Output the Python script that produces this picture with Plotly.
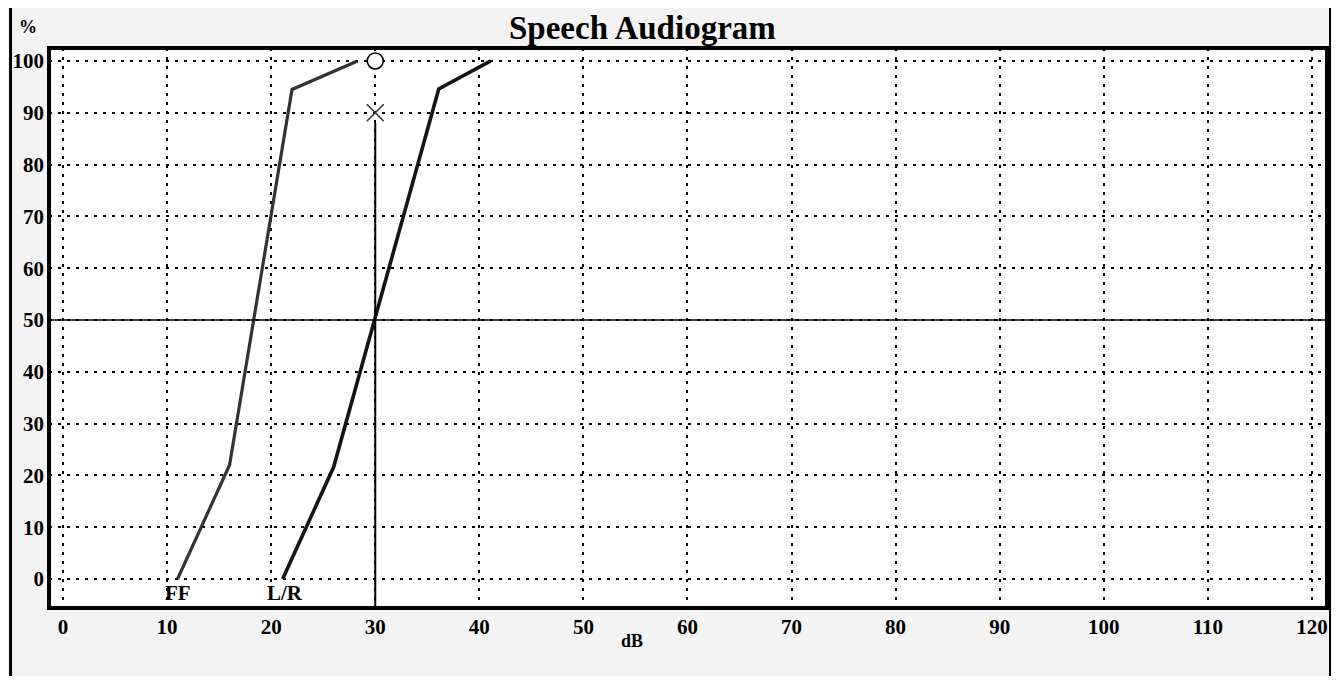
import plotly.graph_objects as go

# ---- data ----
ff_db = [11, 16, 22, 28.3]
ff_pct = [0, 22, 94.5, 100]
lr_db = [21.1, 26, 36.1, 41.1]
lr_pct = [0, 21.6, 94.6, 100]

srt_db = 30            # threshold marker position
circle_pct = [100]
cross_pct = [90]
srt_line_top = 88      # solid vertical line reaches up to here
half_pct = 50          # horizontal reference line

x_ticks = [0, 10, 20, 30, 40, 50, 60, 70, 80, 90, 100, 110, 120]
x_labels = [str(v) for v in x_ticks]
y_ticks = [0, 10, 20, 30, 40, 50, 60, 70, 80, 90, 100]
y_labels = [str(v) for v in y_ticks]

curve_labels = ["FF", "L/R"]
curve_label_x = [11, 21.3]
curve_label_y = -2.8

XR = [-1.35, 121.45]
YR = [-5.6, 102.5]

SERIF = "Liberation Serif"

# figure is placed at (8,8) in the page
W, H = 1324, 668
ML, MT = 40, 40
PW, PH = 1280, 560
MR = W - ML - PW
MB = H - MT - PH


def px_to_paper_x(px):
    return (px - 8 - ML) / PW


def px_to_paper_y(py):
    return (MT + PH - (py - 8)) / PH


fig = go.Figure()

fig.add_trace(go.Scatter(x=ff_db, y=ff_pct, mode="lines",
                         line=dict(color="#333333", width=3.2), hoverinfo="skip"))
fig.add_trace(go.Scatter(x=lr_db, y=lr_pct, mode="lines",
                         line=dict(color="#151515", width=3.6), hoverinfo="skip"))

# reference lines
fig.add_shape(type="line", xref="x", yref="y", x0=XR[0], x1=XR[1], y0=half_pct, y1=half_pct,
              line=dict(color="black", width=1.5), layer="above")
fig.add_shape(type="line", xref="x", yref="y", x0=srt_db, x1=srt_db, y0=YR[0], y1=srt_line_top,
              line=dict(color="black", width=2), layer="above")

fig.add_trace(go.Scatter(x=[srt_db], y=circle_pct, mode="markers",
                         marker=dict(symbol="circle", size=16, color="white",
                                     line=dict(width=1.6, color="black")),
                         hoverinfo="skip"))
fig.add_trace(go.Scatter(x=[srt_db], y=cross_pct, mode="markers",
                         marker=dict(symbol="x-thin-open", size=17, color="#333",
                                     line=dict(width=1.5, color="#333")),
                         hoverinfo="skip"))

for t, xv in zip(curve_labels, curve_label_x):
    fig.add_annotation(x=xv, y=curve_label_y, xref="x", yref="y", text=t, showarrow=False,
                       font=dict(family=SERIF, size=21, color="black", weight="bold"),
                       xanchor="center", yanchor="middle")

# frame
fig.add_shape(type="rect", xref="paper", yref="paper", x0=0, x1=1, y0=0, y1=1,
              line=dict(color="black", width=4), layer="above")
# page edge lines
fig.add_shape(type="line", xref="paper", yref="paper",
              x0=px_to_paper_x(9.5), x1=px_to_paper_x(9.5),
              y0=px_to_paper_y(684), y1=px_to_paper_y(0),
              line=dict(color="black", width=3))
fig.add_shape(type="line", xref="paper", yref="paper",
              x0=px_to_paper_x(1331), x1=px_to_paper_x(1331),
              y0=px_to_paper_y(684), y1=px_to_paper_y(0),
              line=dict(color="black", width=2))

fig.add_annotation(x=px_to_paper_x(642), y=px_to_paper_y(28), xref="paper", yref="paper",
                   text="Speech Audiogram", showarrow=False,
                   font=dict(family=SERIF, size=33, color="black", weight="bold"),
                   xanchor="center", yanchor="middle")
fig.add_annotation(x=px_to_paper_x(27), y=px_to_paper_y(27), xref="paper", yref="paper",
                   text="%", showarrow=False,
                   font=dict(family=SERIF, size=18, color="black", weight="bold"),
                   xanchor="center", yanchor="middle")
fig.add_annotation(x=px_to_paper_x(632), y=px_to_paper_y(641), xref="paper", yref="paper",
                   text="dB", showarrow=False,
                   font=dict(family=SERIF, size=18, color="black", weight="bold"),
                   xanchor="center", yanchor="middle")

tickfont = dict(family=SERIF, size=21, color="black", weight="bold")

fig.update_layout(
    width=W, height=H,
    margin=dict(l=ML, r=MR, t=MT, b=MB, pad=0),
    paper_bgcolor="#f3f3f3", plot_bgcolor="white",
    showlegend=False,
    xaxis=dict(range=XR, tickmode="array", tickvals=x_ticks, ticktext=x_labels,
               showgrid=True, gridcolor="black", gridwidth=2, griddash="3px,6px",
               zeroline=False, showline=False, ticks="", tickfont=tickfont, fixedrange=True,
               ticklabelstandoff=4),
    yaxis=dict(range=YR, tickmode="array", tickvals=y_ticks, ticktext=y_labels,
               showgrid=True, gridcolor="black", gridwidth=2, griddash="3px,6px",
               zeroline=False, showline=False, ticks="", tickfont=tickfont, fixedrange=True,
               ticklabelstandoff=4),
)

fig.write_html("out.html")
